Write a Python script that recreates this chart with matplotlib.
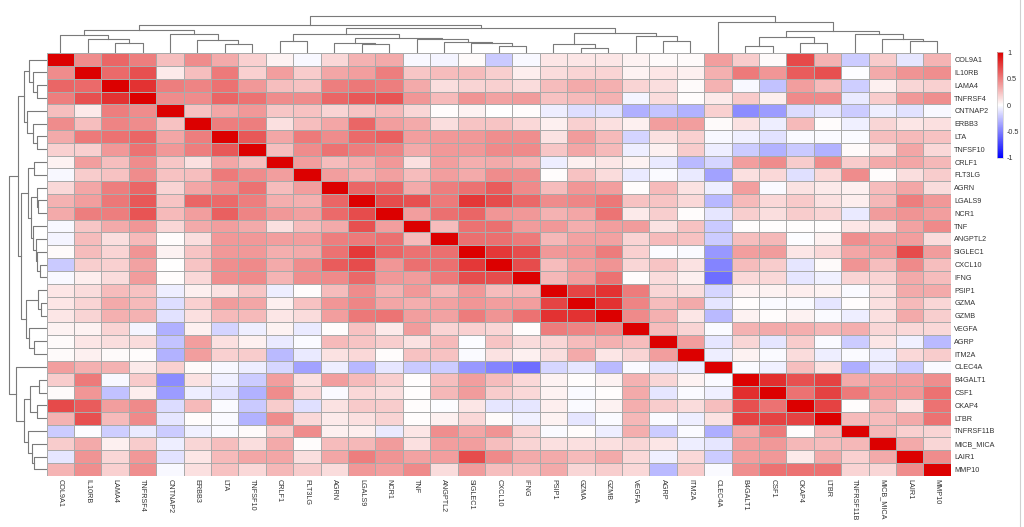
import numpy as np
import matplotlib
matplotlib.use("Agg")
import matplotlib.pyplot as plt
from matplotlib.colors import LinearSegmentedColormap
from matplotlib.lines import Line2D

plt.rcParams['font.family'] = ['Liberation Sans', 'DejaVu Sans']

# gene order (same for rows and columns, as clustered)
genes = ["COL9A1", "IL10RB", "LAMA4", "TNFRSF4", "CNTNAP2", "ERBB3", "LTA",
         "TNFSF10", "CRLF1", "FLT3LG", "AGRN", "LGALS9", "NCR1", "TNF",
         "ANGPTL2", "SIGLEC1", "CXCL10", "IFNG", "PSIP1", "GZMA", "GZMB",
         "VEGFA", "AGRP", "ITM2A", "CLEC4A", "B4GALT1", "CSF1", "CKAP4",
         "LTBR", "TNFRSF11B", "MICB_MICA", "LAIR1", "MMP10"]

# upper triangle of the correlation matrix, row i holds columns i+1..32
upper = [
    [0.45, 0.6, 0.5, 0.25, 0.45, 0.33, 0.18, 0.05, -0.03, 0.15, 0.3, 0.33, -0.03, -0.04, 0.02, -0.21,
     -0.03, 0.1, 0.1, 0.1, 0.05, 0.02, 0.02, 0.38, 0.2, 0.02, 0.71, 0.3, -0.2, 0.2, -0.1, 0.29],
    [0.58, 0.68, 0.08, 0.25, 0.52, 0.18, 0.38, 0.2, 0.35, 0.38, 0.5, 0.22, 0.26, 0.26, 0.19, 0.07,
     0.14, 0.17, 0.17, 0.05, 0.1, 0.06, 0.31, 0.52, 0.41, 0.64, 0.68, -0.01, 0.33, 0.42, 0.44],
    [0.8, 0.5, 0.48, 0.55, 0.4, 0.25, 0.24, 0.5, 0.53, 0.5, 0.33, 0.13, 0.17, 0.18, 0.14, 0.26,
     0.33, 0.31, 0.17, 0.13, 0.02, 0.3, -0.03, -0.24, 0.38, 0.27, -0.19, 0.06, 0.16, 0.18],
    [0.45, 0.45, 0.6, 0.55, 0.45, 0.45, 0.6, 0.65, 0.67, 0.41, 0.27, 0.42, 0.36, 0.39, 0.24, 0.27,
     0.3, -0.04, 0.14, 0.01, 0.08, 0.21, 0.07, 0.46, 0.46, -0.08, 0.2, 0.4, 0.44],
    [0.24, 0.35, 0.4, 0.22, 0.24, 0.17, 0.23, 0.27, 0.16, 0.01, 0.05, 0.0, 0.01, -0.07, -0.13, -0.11,
     -0.31, -0.23, -0.3, 0.18, -0.45, -0.39, -0.14, -0.1, -0.2, -0.07, -0.11, -0.03],
    [0.5, 0.5, 0.12, 0.25, 0.35, 0.6, 0.38, 0.33, 0.13, 0.23, 0.23, 0.15, 0.06, 0.18, 0.12, 0.06,
     0.38, 0.38, 0.02, 0.11, -0.07, 0.27, 0.01, -0.06, 0.16, 0.1, 0.12],
    [0.65, 0.35, 0.52, 0.45, 0.58, 0.62, 0.38, 0.4, 0.4, 0.44, 0.44, 0.11, 0.39, 0.27, -0.17, 0.12,
     0.18, -0.03, -0.06, -0.11, -0.02, -0.02, -0.02, 0.25, 0.27, 0.24],
    [0.25, 0.45, 0.55, 0.5, 0.48, 0.33, 0.4, 0.4, 0.46, 0.46, 0.22, 0.35, 0.27, -0.07, 0.06, 0.2,
     -0.07, -0.2, -0.3, -0.21, -0.3, 0.02, 0.13, 0.35, 0.15],
    [0.38, 0.26, 0.32, 0.4, 0.12, 0.38, 0.32, 0.33, 0.29, -0.07, 0.06, 0.1, 0.05, -0.08, -0.27, -0.16,
     0.38, 0.45, 0.2, 0.45, 0.2, 0.33, 0.35, 0.28],
    [0.38, 0.31, 0.37, 0.26, 0.38, 0.33, 0.45, 0.44, 0.01, 0.24, 0.14, -0.08, -0.02, -0.08, -0.36,
     0.12, 0.15, -0.12, 0.15, 0.45, 0.01, 0.13, 0.2],
    [0.6, 0.58, 0.33, 0.5, 0.55, 0.64, 0.46, 0.26, 0.41, 0.38, 0.01, 0.27, 0.11, -0.07, 0.38, -0.02,
     0.11, 0.08, 0.06, 0.26, 0.35, 0.14],
    [0.7, 0.68, 0.52, 0.78, 0.7, 0.59, 0.45, 0.47, 0.53, 0.24, 0.23, 0.15, -0.28, 0.27, 0.15, 0.21,
     0.12, 0.07, 0.28, 0.5, 0.4],
    [0.38, 0.56, 0.6, 0.41, 0.4, 0.3, 0.35, 0.54, 0.08, 0.19, 0.01, -0.1, 0.19, 0.13, 0.2, 0.17,
     -0.08, 0.39, 0.42, 0.38],
    [0.26, 0.55, 0.56, 0.39, 0.4, 0.32, 0.38, 0.39, 0.11, 0.24, -0.21, 0.01, 0.01, 0.01, 0.01, 0.1,
     0.12, 0.36, 0.46],
    [0.56, 0.56, 0.52, 0.28, 0.36, 0.36, 0.17, 0.27, 0.24, -0.2, 0.25, 0.28, -0.01, 0.06, 0.44, 0.38,
     0.38, 0.14],
    [0.78, 0.7, 0.4, 0.41, 0.51, 0.18, -0.01, -0.02, -0.4, 0.38, 0.39, 0.1, 0.15, 0.35, 0.38, 0.7, 0.39],
    [0.7, 0.26, 0.38, 0.42, 0.16, 0.23, 0.11, -0.48, 0.26, 0.2, -0.1, 0.02, 0.42, 0.25, 0.46, 0.25],
    [0.28, 0.38, 0.55, 0.01, 0.14, 0.06, -0.57, 0.15, 0.15, -0.1, -0.06, 0.17, 0.17, 0.33, 0.26],
    [0.73, 0.8, 0.51, 0.16, 0.13, -0.16, 0.05, 0.05, 0.07, 0.05, -0.02, 0.12, 0.33, 0.33],
    [0.8, 0.48, 0.26, 0.33, -0.1, 0.01, -0.02, -0.02, -0.1, 0.01, 0.12, 0.27, 0.16],
    [0.46, 0.31, 0.1, -0.27, 0.05, 0.01, 0.05, -0.02, -0.07, 0.12, 0.33, 0.19],
    [0.26, 0.17, -0.02, 0.3, 0.33, 0.32, 0.28, 0.32, 0.16, 0.15, 0.15],
    [0.38, -0.1, 0.16, -0.1, 0.2, -0.02, -0.2, 0.1, -0.06, -0.27],
    [-0.07, 0.05, -0.02, 0.14, -0.07, -0.02, -0.07, 0.15, 0.2],
    [-0.02, -0.06, 0.25, 0.11, -0.32, -0.1, -0.2, -0.02],
    [0.82, 0.68, 0.74, 0.33, 0.38, 0.38, 0.44],
    [0.55, 0.74, 0.52, 0.4, 0.4, 0.55],
    [0.74, 0.01, 0.28, 0.08, 0.55],
    [0.27, 0.26, 0.33, 0.55],
    [0.28, 0.18, 0.17],
    [0.33, 0.16],
    [0.45],
]

# hierarchical clustering tree: (child a, child b, merge height); ids >= 33 are earlier merges
merges = [
    (2, 3, 10.0), (1, 33, 14.0), (0, 34, 18.0), (6, 7, 9.3), (5, 36, 13.3),
    (4, 37, 19.3), (35, 38, 23.0), (8, 9, 12.6), (11, 12, 9.0), (10, 41, 10.0),
    (16, 17, 6.8), (15, 43, 9.8), (14, 44, 10.8), (13, 45, 14.0), (42, 46, 15.6),
    (40, 47, 19.0), (19, 20, 5.6), (18, 49, 9.0), (22, 23, 12.3), (21, 51, 17.3),
    (50, 52, 20.6), (48, 53, 25.6), (39, 54, 28.6), (25, 26, 7.3), (27, 28, 10.0),
    (56, 57, 16.6), (31, 32, 12.6), (30, 59, 14.6), (29, 60, 19.0), (58, 61, 22.6),
    (24, 62, 31.0), (55, 63, 37.6),
]

cbar_ticks = [1, 0.5, 0, -0.5, -1]
cbar_labels = ["1", "0.5", "0", "-0.5", "-1"]

n = len(genes)
corr = np.eye(n)
for i, row in enumerate(upper):
    corr[i, i + 1:] = row
    corr[i + 1:, i] = row

cmap = LinearSegmentedColormap.from_list("bwr2", ["#0000ff", "#ffffff", "#dc0000"])

W, H = 1024, 527
fig = plt.figure(figsize=(W / 100, H / 100), dpi=100)

# heatmap
hx0, hx1, hy0, hy1 = 46.7, 950.7, 53.3, 475.7
ax = fig.add_axes([hx0 / W, 1 - hy1 / H, (hx1 - hx0) / W, (hy1 - hy0) / H])
ax.pcolormesh(np.arange(n + 1), np.arange(n + 1), corr, cmap=cmap, vmin=-1, vmax=1,
              edgecolors='#aaaaaa', linewidth=0.5)
ax.set_xlim(0, n)
ax.set_ylim(n, 0)
ax.set_xticks(np.arange(n) + 0.5)
ax.set_xticklabels(genes, rotation=-90, fontsize=5.2, color='#333333')
ax.set_yticks(np.arange(n) + 0.5)
ax.set_yticklabels(genes, fontsize=5.2, color='#333333')
ax.yaxis.tick_right()
ax.tick_params(length=0, pad=2.5)
for s in ax.spines.values():
    s.set_visible(False)


def draw_dendro(dax, orient):
    pos = {i: i + 0.5 for i in range(n)}
    hgt = {i: 0.0 for i in range(n)}
    for k, (a, b, h) in enumerate(merges):
        xs = [pos[a], pos[a], pos[b], pos[b]]
        ys = [hgt[a], h, h, hgt[b]]
        if orient == 'top':
            dax.plot(xs, ys, color='#7a7a7a', lw=0.8)
        else:
            dax.plot(ys, xs, color='#7a7a7a', lw=0.8)
        pos[n + k] = (pos[a] + pos[b]) / 2
        hgt[n + k] = h
    dax.axis('off')


# column dendrogram
top_h = 41.3
axt = fig.add_axes([hx0 / W, 1 - hy0 / H, (hx1 - hx0) / W, top_h / H])
draw_dendro(axt, 'top')
axt.set_xlim(0, n)
axt.set_ylim(0, top_h)

# row dendrogram
left_w = 41.7
axl = fig.add_axes([(hx0 - left_w) / W, 1 - hy1 / H, left_w / W, (hy1 - hy0) / H])
draw_dendro(axl, 'left')
axl.set_xlim(left_w, 0)
axl.set_ylim(n, 0)

# colour bar
cx0, cx1, cy0, cy1 = 996.7, 1003.0, 52.3, 158.0
cax = fig.add_axes([cx0 / W, 1 - cy1 / H, (cx1 - cx0) / W, (cy1 - cy0) / H])
sm = plt.cm.ScalarMappable(cmap=cmap, norm=plt.Normalize(-1, 1))
cb = fig.colorbar(sm, cax=cax, ticks=cbar_ticks)
cb.ax.set_yticklabels(cbar_labels)
cb.ax.tick_params(length=0, labelsize=5.2, labelcolor='#333333', pad=3)
cb.outline.set_edgecolor('#cccccc')
cb.outline.set_linewidth(0.5)

# frame edge on the right
fig.add_artist(Line2D([1020 / W, 1020 / W], [0, 1], color='#d0d0d0', lw=0.8))

fig.savefig("out.png", dpi=100)
